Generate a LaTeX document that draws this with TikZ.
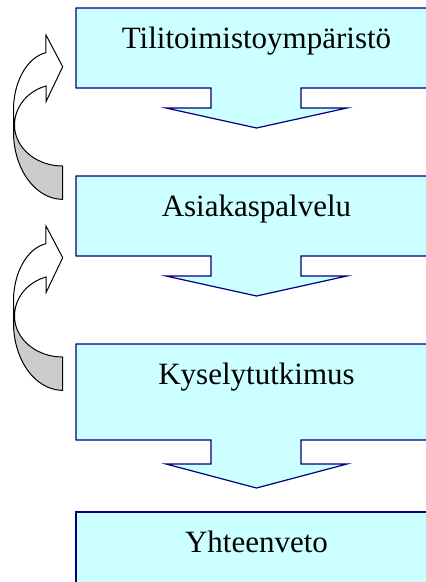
\documentclass[tikz,border=0pt]{standalone}
\usepackage{fontspec}
\setmainfont{Liberation Serif}

\definecolor{boxfill}{RGB}{204,255,255}
\definecolor{boxline}{RGB}{0,0,128}
\definecolor{backside}{RGB}{204,204,204}

\tikzset{
  flowbox/.style={fill=boxfill, draw=boxline, line width=1.2pt, line join=miter},
  boxlabel/.style={anchor=base, inner sep=0pt, font=\fontsize{31}{36}\selectfont},
  loopfront/.style={fill=white, draw=black, line width=1pt, line join=miter},
  loopback/.style={fill=backside, draw=black, line width=1pt, line join=miter},
  % curved feedback arrow: a twisted band from the lower box up into the upper one
  loop arrow/.pic={
    % back side of the band (lower half)
    \filldraw[loopback]
      plot[domain=180:270, samples=40] ({62.7+48.2*cos(\x)},{125-41*sin(\x)})
      -- plot[domain=270:180, samples=40] ({62.7+49.2*cos(\x)},{132-67.3*sin(\x)})
      -- (13.5,125) -- cycle;
    % front side of the band with the arrow head
    \filldraw[loopfront]
      (13.5,125) -- (13.5,110)
      -- plot[domain=180:99, samples=40] ({52+38.5*cos(\x)},{110-58*sin(\x)})
      -- (46,35) -- (62.7,66.7) -- (46,101.7) -- (46,86)
      -- plot[domain=107.1:180, samples=40] ({59.1+44.6*cos(\x)},{125-40.8*sin(\x)})
      -- cycle;
  }
}

\begin{document}
\begin{tikzpicture}[x=1pt, y=-1pt]
  \useasboundingbox (0,0) rectangle (426,582);
  \clip (0,0) rectangle (426,582);

  % stages, each with a block arrow pointing to the next one
  \path[flowbox] (76,8) -- (440,8) -- (440,88) -- (301,88) -- (301,108)
    -- (347,108) -- (256.5,128) -- (166,108) -- (211,108) -- (211,88)
    -- (76,88) -- cycle;
  \path[flowbox] (76,176) -- (440,176) -- (440,256) -- (301,256) -- (301,276)
    -- (347,276) -- (256.5,296) -- (166,276) -- (211,276) -- (211,256)
    -- (76,256) -- cycle;
  \path[flowbox] (76,344) -- (440,344) -- (440,440) -- (301,440) -- (301,464)
    -- (347,464) -- (256.5,488) -- (166,464) -- (211,464) -- (211,440)
    -- (76,440) -- cycle;
  \path[flowbox] (76,512) rectangle (440,600);

  \node[boxlabel] (s1) at (256.5,48)    {Tilitoimistoympäristö};
  \node[boxlabel] (s2) at (256.5,216.5) {Asiakaspalvelu};
  \node[boxlabel] (s3) at (256.5,384)   {Kyselytutkimus};
  \node[boxlabel] (s4) at (256.5,552.5) {Yhteenveto};

  % feedback loops on the left
  \pic (fb1) at (0,0)   {loop arrow};
  \pic (fb2) at (0,191) {loop arrow};
\end{tikzpicture}
\end{document}
